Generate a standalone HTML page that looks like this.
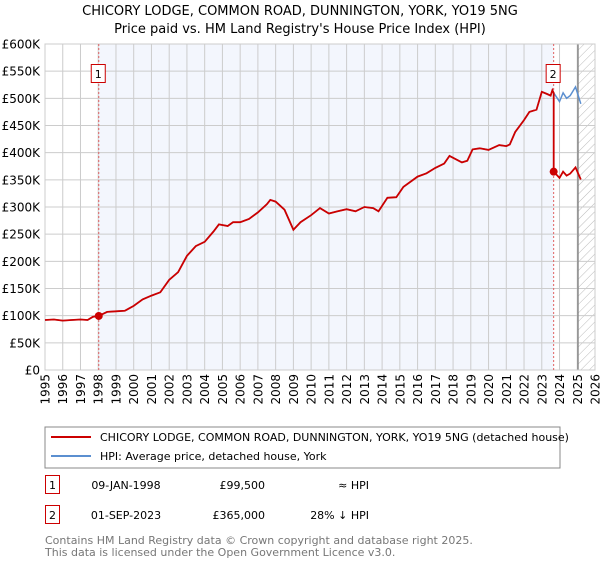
<!DOCTYPE html>
<html><head><meta charset="utf-8"><style>
body{margin:0;background:#fff;font-family:"DejaVu Sans","Liberation Sans",sans-serif;}
svg text{font-family:"DejaVu Sans","Liberation Sans",sans-serif;}
</style></head><body>
<svg id="c" width="600" height="560" xmlns="http://www.w3.org/2000/svg">
<defs><pattern id="hatch" width="6" height="6" patternUnits="userSpaceOnUse" patternTransform="rotate(45)"><line x1="0" y1="0" x2="0" y2="6" stroke="#bbb" stroke-width="1"/></pattern></defs>
<text x="300" y="15" text-anchor="middle" font-size="13">CHICORY LODGE, COMMON ROAD, DUNNINGTON, YORK, YO19 5NG</text>
<text x="300" y="33" text-anchor="middle" font-size="13">Price paid vs. HM Land Registry's House Price Index (HPI)</text>
<g id="plot"></g>
<rect x="45" y="427" width="515" height="41" fill="#fff" stroke="#888"/>
<line x1="51" y1="437" x2="91" y2="437" stroke="#cc0000" stroke-width="2"/>
<text x="100" y="441" font-size="11">CHICORY LODGE, COMMON ROAD, DUNNINGTON, YORK, YO19 5NG (detached house)</text>
<line x1="51" y1="456" x2="91" y2="456" stroke="#5b8fd0" stroke-width="2"/>
<text x="100" y="460" font-size="11">HPI: Average price, detached house, York</text>
<g>
<rect x="45.5" y="475.5" width="14" height="18" fill="#fff" stroke="#cc0000"/>
<text x="52.5" y="489" text-anchor="middle" font-size="11">1</text>
<text x="126" y="489" text-anchor="middle" font-size="11">09-JAN-1998</text>
<text x="265" y="489" text-anchor="end" font-size="11">£99,500</text>
<text x="369" y="489" text-anchor="end" font-size="11">≈ HPI</text></g>
<g>
<rect x="45.5" y="505.5" width="14" height="18" fill="#fff" stroke="#cc0000"/>
<text x="52.5" y="519" text-anchor="middle" font-size="11">2</text>
<text x="126" y="519" text-anchor="middle" font-size="11">01-SEP-2023</text>
<text x="265" y="519" text-anchor="end" font-size="11">£365,000</text>
<text x="369" y="519" text-anchor="end" font-size="11">28% ↓ HPI</text></g>
<text x="45" y="544" font-size="11" fill="#777">Contains HM Land Registry data © Crown copyright and database right 2025.</text>
<text x="45" y="556" font-size="11" fill="#777">This data is licensed under the Open Government Licence v3.0.</text>
</svg>
<script>
const hpiYears=[1995,1995.5,1996,1996.5,1997,1997.4,1997.7,1998.03,1998.5,1999,1999.5,2000,2000.5,2001,2001.5,2002,2002.5,2003,2003.5,2004,2004.5,2004.8,2005.3,2005.6,2006,2006.5,2007,2007.5,2007.7,2008,2008.5,2009,2009.4,2010,2010.5,2011,2011.5,2012,2012.5,2013,2013.5,2013.8,2014.3,2014.8,2015.2,2016,2016.5,2017,2017.5,2017.8,2018.5,2018.8,2019.1,2019.5,2020,2020.6,2021,2021.2,2021.5,2022,2022.3,2022.7,2023,2023.3,2023.5,2023.6,2023.67,2024,2024.2,2024.4,2024.6,2024.9,2025.2];
const hpiValues=[92,93,91,92,93,92,98,99.5,107,108,109,118,130,137,143,166,180,210,228,236,255,268,265,272,272,278,290,305,313,310,295,258,272,285,298,288,292,296,292,300,298,292,317,318,337,356,362,372,380,394,382,385,406,408,405,414,412,415,438,460,475,479,512,508,505,515,510,494,510,500,505,521,490];
const saleYears=[1998.03,2023.67];
const saleValues=[99.5,365];
const yTicks=[0,50,100,150,200,250,300,350,400,450,500,550,600];
const yTickLabels=["£0","£50K","£100K","£150K","£200K","£250K","£300K","£350K","£400K","£450K","£500K","£550K","£600K"];
const xTicks=[1995,1996,1997,1998,1999,2000,2001,2002,2003,2004,2005,2006,2007,2008,2009,2010,2011,2012,2013,2014,2015,2016,2017,2018,2019,2020,2021,2022,2023,2024,2025,2026];
const dataEnd=2025.04;

const X0=45,X1=595,Y0=370,Y1=44;
const xs=y=>X0+(y-1995)/(2026-1995)*(X1-X0);
const ys=v=>Y0-(v/600)*(Y0-Y1);
const NS="http://www.w3.org/2000/svg";
const g=document.getElementById('plot');
function mk(tag,attrs){const e=document.createElementNS(NS,tag);for(const k in attrs)e.setAttribute(k,attrs[k]);g.appendChild(e);return e;}

let e=mk('rect',{x:xs(saleYears[0]),y:Y1,width:xs(saleYears[1])-xs(saleYears[0]),height:Y0-Y1,fill:'#f3f6fd'});


e=mk('rect',{x:xs(dataEnd),y:Y1,width:X1-xs(dataEnd),height:Y0-Y1,fill:'url(#hatch)'});


yTicks.forEach((t,i)=>{
  let l=mk('line',{x1:X0,x2:X1,y1:ys(t),y2:ys(t),stroke:'#cccccc','stroke-width':1});
  
  
  let tx=mk('text',{x:40,y:ys(t)+4.5,'text-anchor':'end','font-size':12});
  tx.textContent=yTickLabels[i];
  
  
});
xTicks.forEach(t=>{
  let l=mk('line',{x1:xs(t),x2:xs(t),y1:Y1,y2:Y0,stroke:'#cccccc','stroke-width':1});
  
  
  const px=xs(t)+4.5, py=374;
  let tx=mk('text',{x:px,y:py,'text-anchor':'end','font-size':12,transform:'rotate(-90 '+px+' '+py+')'});
  tx.textContent=t;
  
  
});
e=mk('line',{x1:xs(dataEnd),x2:xs(dataEnd),y1:Y1,y2:Y0,stroke:'#888','stroke-width':1.5});


e=mk('rect',{x:X0,y:Y1,width:X1-X0,height:Y0-Y1,fill:'none',stroke:'#cccccc'});


saleYears.forEach((s,i)=>{
  let l=mk('line',{x1:xs(s),x2:xs(s),y1:Y1,y2:Y0,stroke:'#e06060','stroke-dasharray':'2,2','stroke-width':1});
  
  
});
const hpiPts=hpiYears.map((y,i)=>xs(y).toFixed(1)+','+ys(hpiValues[i]).toFixed(1)).join(' ');
e=mk('polyline',{points:hpiPts,fill:'none',stroke:'#5b8fd0','stroke-width':1.5});


const hpiAt=y=>{for(let i=1;i<hpiYears.length;i++){if(hpiYears[i]>=y){const a=hpiYears[i-1],b=hpiYears[i];return hpiValues[i-1]+(hpiValues[i]-hpiValues[i-1])*(y-a)/(b-a);}}return hpiValues[hpiValues.length-1];};
const redPts=[];
hpiYears.forEach((y,i)=>{
  let f=1;
  for(let k=saleYears.length-1;k>=0;k--){if(y>=saleYears[k]){f=saleValues[k]/hpiAt(saleYears[k]);break;}}
  if(y<saleYears[0])f=saleValues[0]/hpiAt(saleYears[0]);
  if(y===saleYears[1]){redPts.push(xs(y).toFixed(1)+','+ys(hpiValues[i]*saleValues[0]/hpiAt(saleYears[0])).toFixed(1));}
  redPts.push(xs(y).toFixed(1)+','+ys(hpiValues[i]*f).toFixed(1));
});
e=mk('polyline',{points:redPts.join(' '),fill:'none',stroke:'#cc0000','stroke-width':1.8});


saleYears.forEach((s,i)=>{
  let c=mk('circle',{cx:xs(s),cy:ys(saleValues[i]),r:4,fill:'#cc0000'});
  
  
  let r=mk('rect',{x:xs(s)-7.5,y:64.5,width:14,height:18,fill:'#fff',stroke:'#cc0000'});
  
  
  let t=mk('text',{x:xs(s)-0.5,y:78,'text-anchor':'middle','font-size':11});
  t.textContent=String(i+1);
  
  
});
</script>
</body></html>
